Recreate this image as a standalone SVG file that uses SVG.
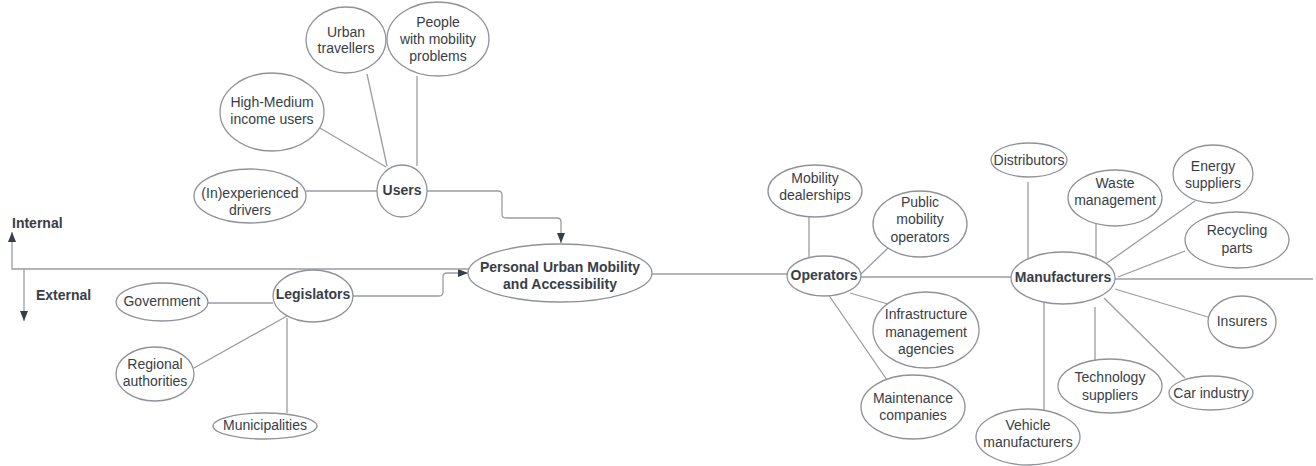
<svg xmlns="http://www.w3.org/2000/svg" width="1316" height="466" viewBox="0 0 1316 466">
<style>
.n{fill:#fff;stroke:#8f9298;stroke-width:1.3}
.t{font-family:"Liberation Sans",Arial,sans-serif;font-size:14px;fill:#383e47;text-anchor:middle}
.b{font-weight:bold}
.c{fill:none;stroke:#9a9da3;stroke-width:1.3}
.l{font-family:"Liberation Sans",Arial,sans-serif;font-size:14px;fill:#383e47;font-weight:bold}
</style>
<defs>
<marker id="ah" viewBox="0 0 10 10" refX="10" refY="5" markerWidth="10" markerHeight="10" markerUnits="userSpaceOnUse" orient="auto">
<path d="M0,1 L10,5 L0,9 Z" fill="#383e47"/>
</marker>
</defs>
<rect width="1316" height="466" fill="#fff"/>
<g id="connectors">
<line class="c" x1="367" y1="74" x2="387" y2="166"/>
<line class="c" x1="417" y1="76" x2="417" y2="166"/>
<line class="c" x1="320" y1="128" x2="386" y2="167"/>
<line class="c" x1="306" y1="191" x2="378" y2="191"/>
<path class="c" d="M427,191 H498 Q502,191 502,195 V214 Q502,218 506,218 H557 Q561,218 561,222 V243" marker-end="url(#ah)"/>
<path class="c" d="M353,296 H439 Q443,296 443,292 V277 Q443,273 447,273 H468" marker-end="url(#ah)"/>
<path class="c" d="M469,269 H12 V232" marker-end="url(#ah)"/>
<path class="c" d="M24,269 V321" marker-end="url(#ah)"/>
<line class="c" x1="652" y1="274" x2="788" y2="274"/>
<line class="c" x1="809" y1="217" x2="809" y2="257"/>
<line class="c" x1="861" y1="274" x2="888" y2="248"/>
<line class="c" x1="850" y1="293" x2="888" y2="304"/>
<line class="c" x1="828" y1="294" x2="887" y2="380"/>
<line class="c" x1="861" y1="277" x2="1011" y2="277"/>
<line class="c" x1="1028" y1="182" x2="1028" y2="260"/>
<line class="c" x1="1096" y1="223" x2="1096" y2="263"/>
<line class="c" x1="1195" y1="201" x2="1107" y2="263"/>
<line class="c" x1="1185" y1="251" x2="1118" y2="277"/>
<line class="c" x1="1115" y1="279" x2="1313" y2="279"/>
<line class="c" x1="1115" y1="289" x2="1208" y2="317"/>
<line class="c" x1="1104" y1="298" x2="1185" y2="378"/>
<line class="c" x1="1095" y1="307" x2="1095" y2="362"/>
<line class="c" x1="1044" y1="303" x2="1044" y2="413"/>
<line class="c" x1="207" y1="303" x2="273" y2="303"/>
<line class="c" x1="194" y1="368" x2="287" y2="316"/>
<line class="c" x1="287" y1="318" x2="287" y2="413"/>
</g>
<text class="l" x="12" y="228">Internal</text>
<text class="l" x="36" y="300">External</text>
<g id="urban-travellers"><ellipse class="n" cx="346" cy="40" rx="40" ry="33"/><text class="t" x="346" y="37">Urban</text><text class="t" x="346" y="53">travellers</text></g>
<g id="people-mobility"><ellipse class="n" cx="438" cy="39" rx="51" ry="37"/><text class="t" x="438" y="27">People</text><text class="t" x="438" y="44">with mobility</text><text class="t" x="438" y="61">problems</text></g>
<g id="high-medium"><ellipse class="n" cx="272" cy="112" rx="52" ry="39"/><text class="t" x="272" y="107">High-Medium</text><text class="t" x="272" y="124">income users</text></g>
<g id="drivers"><ellipse class="n" cx="250" cy="196" rx="56" ry="27"/><text class="t" x="250" y="198">(In)experienced</text><text class="t" x="250" y="215">drivers</text></g>
<g id="users"><ellipse class="n" cx="402" cy="191" rx="25" ry="26"/><text class="t b" x="402" y="195">Users</text></g>
<g id="puma"><ellipse class="n" cx="560" cy="273" rx="92" ry="29"/><text class="t b" x="560" y="272">Personal Urban Mobility</text><text class="t b" x="560" y="289">and Accessibility</text></g>
<g id="government"><ellipse class="n" cx="162" cy="302" rx="46" ry="19"/><text class="t" x="162" y="306">Government</text></g>
<g id="legislators"><ellipse class="n" cx="313" cy="296" rx="40" ry="26"/><text class="t b" x="313" y="299">Legislators</text></g>
<g id="regional"><ellipse class="n" cx="155" cy="374" rx="39" ry="27"/><text class="t" x="155" y="369">Regional</text><text class="t" x="155" y="386">authorities</text></g>
<g id="municipalities"><ellipse class="n" cx="265" cy="426" rx="52" ry="13"/><text class="t" x="265" y="430">Municipalities</text></g>
<g id="mobility-dealerships"><ellipse class="n" cx="815" cy="191" rx="47" ry="26"/><text class="t" x="815" y="183">Mobility</text><text class="t" x="815" y="200">dealerships</text></g>
<g id="operators"><ellipse class="n" cx="824" cy="276" rx="37" ry="20"/><text class="t b" x="824" y="280">Operators</text></g>
<g id="public-mobility"><ellipse class="n" cx="920" cy="224" rx="47" ry="33"/><text class="t" x="920" y="207">Public</text><text class="t" x="920" y="224">mobility</text><text class="t" x="920" y="242">operators</text></g>
<g id="infrastructure"><ellipse class="n" cx="926" cy="330" rx="53" ry="38"/><text class="t" x="926" y="319">Infrastructure</text><text class="t" x="926" y="337">management</text><text class="t" x="926" y="354">agencies</text></g>
<g id="maintenance"><ellipse class="n" cx="913" cy="407" rx="52" ry="32"/><text class="t" x="913" y="403">Maintenance</text><text class="t" x="913" y="420">companies</text></g>
<g id="manufacturers"><ellipse class="n" cx="1063" cy="278" rx="52" ry="26"/><text class="t b" x="1063" y="282">Manufacturers</text></g>
<g id="distributors"><ellipse class="n" cx="1029" cy="160" rx="38" ry="17"/><text class="t" x="1029" y="165">Distributors</text></g>
<g id="waste"><ellipse class="n" cx="1115" cy="198" rx="47" ry="28"/><text class="t" x="1115" y="188">Waste</text><text class="t" x="1115" y="205">management</text></g>
<g id="energy"><ellipse class="n" cx="1213" cy="174" rx="40" ry="29"/><text class="t" x="1213" y="171">Energy</text><text class="t" x="1213" y="188">suppliers</text></g>
<g id="recycling"><ellipse class="n" cx="1237" cy="240" rx="52" ry="28"/><text class="t" x="1237" y="235">Recycling</text><text class="t" x="1237" y="253">parts</text></g>
<g id="insurers"><ellipse class="n" cx="1242" cy="322" rx="34" ry="26"/><text class="t" x="1242" y="326">Insurers</text></g>
<g id="car-industry"><ellipse class="n" cx="1211" cy="393" rx="42" ry="17"/><text class="t" x="1211" y="398">Car industry</text></g>
<g id="technology"><ellipse class="n" cx="1110" cy="386" rx="52" ry="27"/><text class="t" x="1110" y="382">Technology</text><text class="t" x="1110" y="400">suppliers</text></g>
<g id="vehicle"><ellipse class="n" cx="1028" cy="437" rx="52" ry="28"/><text class="t" x="1028" y="430">Vehicle</text><text class="t" x="1028" y="447">manufacturers</text></g>
</svg>
